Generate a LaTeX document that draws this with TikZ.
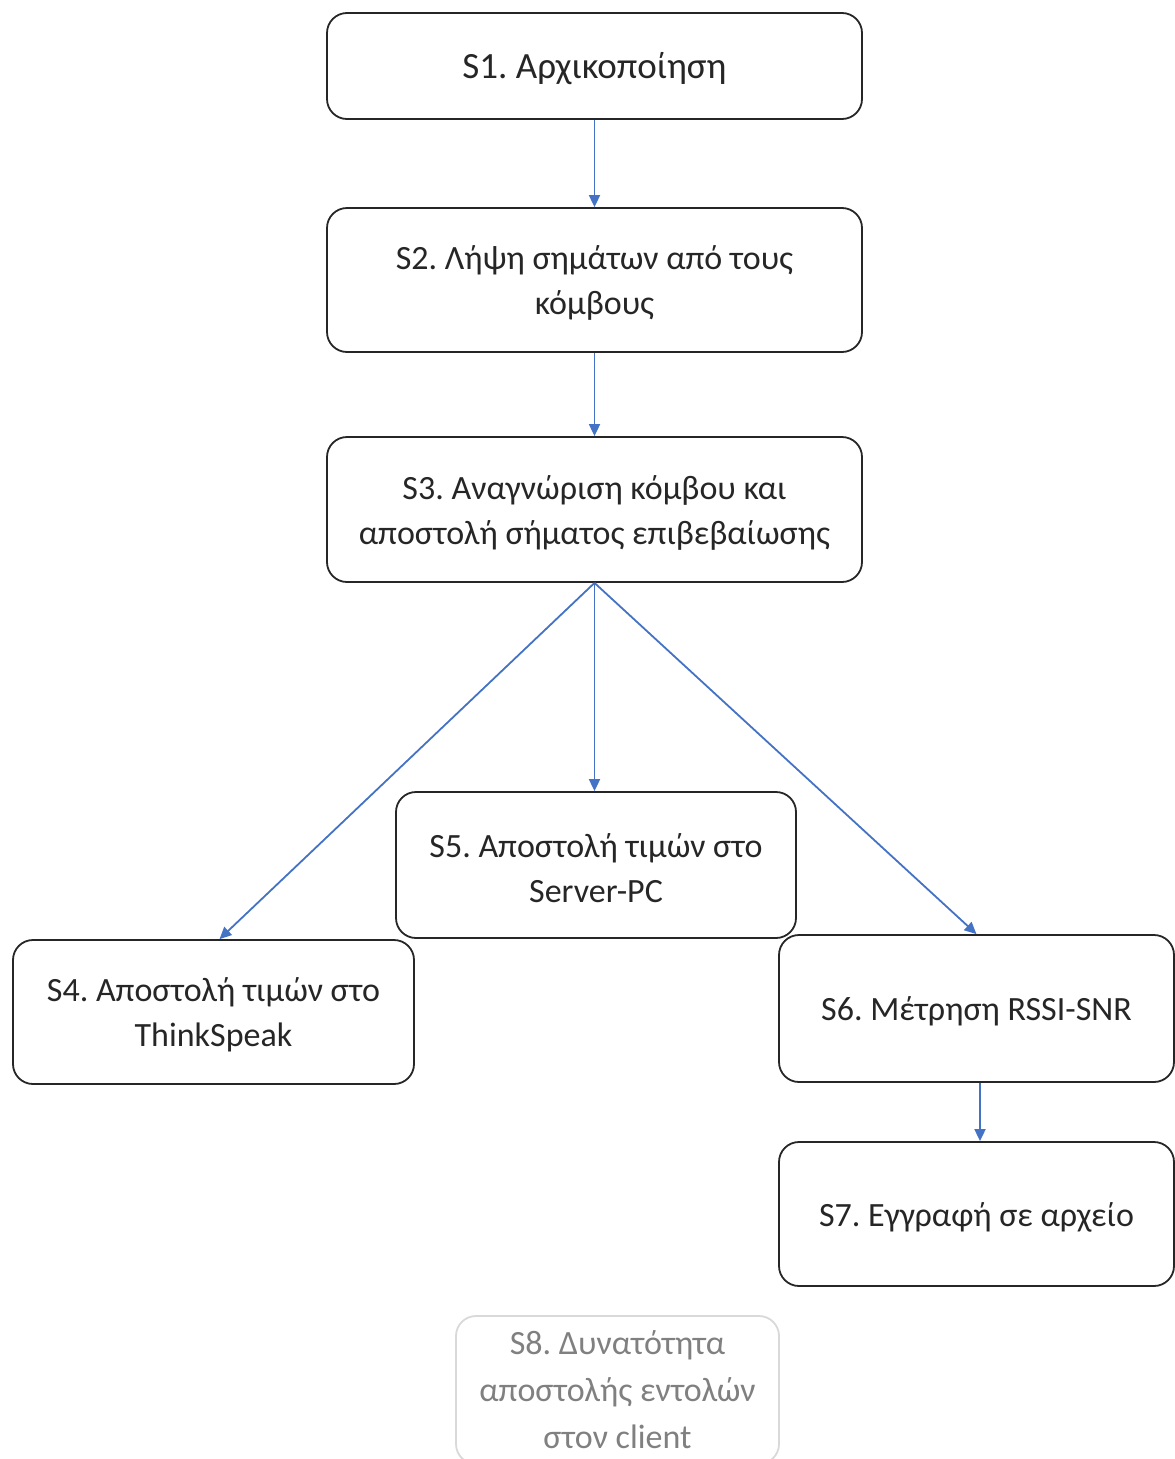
\documentclass[tikz,border=0pt]{standalone}
\usepackage{fontspec}
\setmainfont{Carlito}
\usetikzlibrary{arrows.meta}
\definecolor{arrowblue}{HTML}{4472C4}
\definecolor{txt}{HTML}{262626}
\tikzset{
  stepbox/.style={draw=black!85, line width=1.8pt, rounded corners=20pt, inner sep=0pt},
  faintbox/.style={draw=black!15, line width=1.8pt, rounded corners=20pt, inner sep=0pt},
  steptext/.style={align=center, text=txt, font=\frenchspacing\fontsize{34}{45}\selectfont, inner sep=0pt},
  bigtext/.style={steptext, font=\frenchspacing\fontsize{37}{45}\selectfont},
  fainttext/.style={align=center, text=black!50, font=\frenchspacing\fontsize{34}{47}\selectfont, inner sep=0pt},
  flow/.style={draw=arrowblue, line width=1.8pt, -{Triangle[length=12pt,width=11pt]}},
}
\begin{document}
\begin{tikzpicture}[x=1pt,y=-1pt]
\useasboundingbox (0,0) rectangle (1175,1459);
\clip (0,0) rectangle (1175,1459);
\node[stepbox, minimum width=535pt, minimum height=106pt] (s1) at (594.5,66) {};
\node[stepbox, minimum width=535pt, minimum height=144pt] (s2) at (594.5,280) {};
\node[stepbox, minimum width=535pt, minimum height=145pt] (s3) at (594.5,509.5) {};
\node[stepbox, minimum width=400pt, minimum height=146pt] (s5) at (596,865) {};
\node[stepbox, minimum width=401pt, minimum height=144pt] (s4) at (213.5,1012) {};
\node[stepbox, minimum width=395pt, minimum height=147pt] (s6) at (976.5,1008.5) {};
\node[stepbox, minimum width=395pt, minimum height=144pt] (s7) at (976.5,1214) {};
\node[faintbox, minimum width=323pt, minimum height=148pt] (s8) at (617.5,1390) {};
\node[bigtext] (t1) at ([yshift=-3pt]s1.center) {S1. Αρχικοποίηση};
\node[steptext] (t2) at ([yshift=-3pt]s2.center) {S2. Λήψη σημάτων από τους\\κόμβους};
\node[steptext] (t3) at ([yshift=-3pt]s3.center) {S3. Αναγνώριση κόμβου και\\αποστολή σήματος επιβεβαίωσης};
\node[steptext] (t5) at ([yshift=-3pt]s5.center) {S5. Αποστολή τιμών στο\\Server-PC};
\node[steptext] (t4) at ([yshift=-3pt]s4.center) {S4. Αποστολή τιμών στο\\ThinkSpeak};
\node[steptext] (t6) at ([yshift=-3pt]s6.center) {S6. Μέτρηση RSSI-SNR};
\node[steptext] (t7) at ([yshift=-3pt]s7.center) {S7. Εγγραφή σε αρχείο};
\node[fainttext] (t8) at (s8.center) {S8. Δυνατότητα\\αποστολής εντολών\\στον client};
\draw[flow] (s1) -- (s2);
\draw[flow] (s2) -- (s3);
\draw[flow] (s3.south) -- (s5.north -| s3.south);
\draw[flow] (s3.south) -- ([xshift=6pt]s4.north);
\draw[flow] (s3.south) -- (s6.north);
\draw[flow] ([xshift=3.5pt]s6.south) -- ([xshift=3.5pt]s7.north);
\end{tikzpicture}
\end{document}
